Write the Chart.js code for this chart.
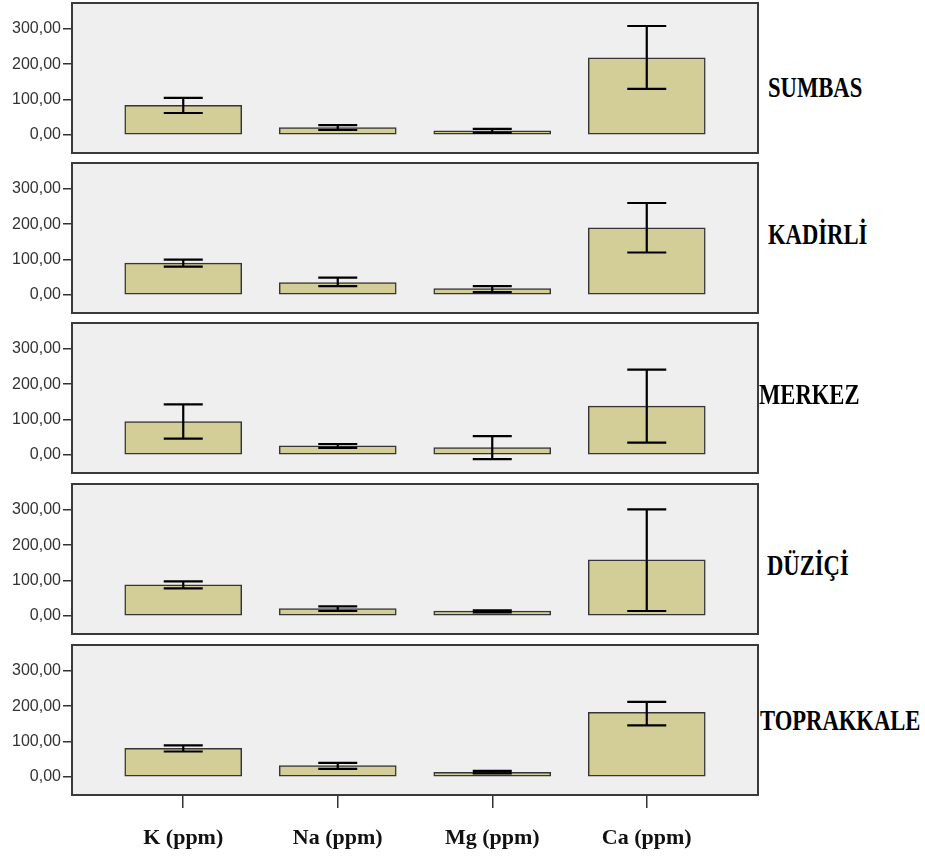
<!DOCTYPE html>
<html>
<head>
<meta charset="utf-8">
<script src="https://cdn.jsdelivr.net/npm/chart.js@4.4.1/dist/chart.umd.min.js"></script>
<style>
  html, body { margin: 0; padding: 0; background: #fff; overflow: hidden; }
  #wrap { position: relative; width: 925px; height: 859px; }
  .panel { position: absolute; left: 0; }
  .site {
    position: absolute; white-space: nowrap;
    font: bold 29px 'Liberation Serif', 'Times New Roman', serif;
    line-height: 29px; color: #000;
    transform: scaleX(0.78); transform-origin: left center;
  }
</style>
</head>
<body>
<div id="wrap"></div>
<script>
const categories = ['K (ppm)', 'Na (ppm)', 'Mg (ppm)', 'Ca (ppm)'];
const sites = ['SUMBAS', 'KADİRLİ', 'MERKEZ', 'DÜZİÇİ', 'TOPRAKKALE'];
const yTicks = [0, 100, 200, 300];

// mean values and error bar ends per site (K, Na, Mg, Ca)
const sumbasMean = [84, 21, 12, 218];
const sumbasLow = [62, 14, 6, 130];
const sumbasHigh = [105, 28, 17, 308];

const kadirliMean = [90, 35, 18, 190];
const kadirliLow = [80, 25, 8, 120];
const kadirliHigh = [100, 49, 25, 260];

const merkezMean = [94, 26, 21, 138];
const merkezLow = [46, 20, -12, 35];
const merkezHigh = [143, 31, 53, 241];

const duziciMean = [88, 21, 14, 159];
const duziciLow = [78, 14, 10, 14];
const duziciHigh = [98, 27, 16, 301];

const toprakkaleMean = [81, 32, 13, 183];
const toprakkaleLow = [72, 23, 10, 146];
const toprakkaleHigh = [89, 40, 17, 212];

const means = [sumbasMean, kadirliMean, merkezMean, duziciMean, toprakkaleMean];
const lows = [sumbasLow, kadirliLow, merkezLow, duziciLow, toprakkaleLow];
const highs = [sumbasHigh, kadirliHigh, merkezHigh, duziciHigh, toprakkaleHigh];

const panelTops = [3, 163, 323, 484, 645];
const labelCenters = [87.5, 235, 395, 566, 721];
const labelLefts = [768, 768, 759, 767, 760];

const boxPlugin = {
  id: 'box',
  beforeDatasetsDraw(chart) {
    const a = chart.chartArea, c = chart.ctx;
    c.save();
    c.fillStyle = '#efefef';
    c.fillRect(a.left, a.top, a.right - a.left, a.bottom - a.top);
    c.restore();
  },
  afterDraw(chart) {
    const a = chart.chartArea, c = chart.ctx;
    c.save();
    c.strokeStyle = '#3a3a3a';
    c.lineWidth = 2;
    c.strokeRect(a.left, a.top, a.right - a.left, a.bottom - a.top);
    c.restore();
  }
};

const errorPlugin = {
  id: 'errbars',
  afterDatasetsDraw(chart, args, opts) {
    const c = chart.ctx, xs = chart.scales.x, ys = chart.scales.y;
    c.save();
    c.strokeStyle = '#000';
    c.lineWidth = 2.2;
    opts.low.forEach((lo, i) => {
      const x = xs.getPixelForValue(i);
      const y1 = ys.getPixelForValue(lo);
      const y2 = ys.getPixelForValue(opts.high[i]);
      c.beginPath();
      c.moveTo(x, y1); c.lineTo(x, y2);
      c.moveTo(x - 19.5, y1); c.lineTo(x + 19.5, y1);
      c.moveTo(x - 19.5, y2); c.lineTo(x + 19.5, y2);
      c.stroke();
    });
    c.restore();
  }
};

const wrap = document.getElementById('wrap');

sites.forEach((site, p) => {
  const last = p === sites.length - 1;
  const div = document.createElement('div');
  div.className = 'panel';
  div.style.top = (panelTops[p] - 2) + 'px';
  const cv = document.createElement('canvas');
  cv.width = 760;
  cv.height = last ? 214 : 154;
  div.appendChild(cv);
  wrap.appendChild(div);

  const lab = document.createElement('div');
  lab.className = 'site';
  lab.textContent = site;
  lab.style.left = labelLefts[p] + 'px';
  lab.style.top = (labelCenters[p] - 14.7) + 'px';
  wrap.appendChild(lab);

  new Chart(cv.getContext('2d'), {
    type: 'bar',
    data: {
      datasets: [{
        data: means[p].map((v, i) => ({ x: i, y: v })),
        backgroundColor: '#d3ce98',
        borderColor: '#353535',
        borderWidth: 1.5,
        borderSkipped: false,
        barThickness: 117
      }]
    },
    options: {
      responsive: false,
      animation: false,
      devicePixelRatio: 1,
      layout: { padding: { top: 2, right: 2, bottom: last ? 0 : 2, left: 0 } },
      plugins: {
        legend: { display: false },
        tooltip: { enabled: false },
        errbars: { low: lows[p], high: highs[p] }
      },
      scales: {
        x: {
          type: 'linear',
          offset: false,
          min: -0.72,
          max: 3.72,
          display: last,
          afterBuildTicks: s => { s.ticks = [0, 1, 2, 3].map(v => ({ value: v })); },
          afterFit: s => {
            if (last) s.height = 62;
            s.paddingLeft = 0; s.paddingRight = 0;
          },
          border: { display: false },
          grid: { offset: false, drawOnChartArea: false, drawTicks: true, tickLength: 13, color: '#333', lineWidth: 1.5 },
          ticks: {
            callback: v => categories[v],
            autoSkip: false,
            maxRotation: 0,
            padding: 17,
            color: '#111',
            font: { family: "'Liberation Serif', 'Times New Roman', serif", size: 22, weight: 'bold' }
          }
        },
        y: {
          min: -51,
          max: 373,
          afterBuildTicks: s => { s.ticks = yTicks.map(v => ({ value: v })); },
          afterFit: s => {
            s.width = 72;
            s.paddingTop = 0; s.paddingBottom = 0;
          },
          border: { display: false },
          grid: { drawOnChartArea: false, drawTicks: true, tickLength: 9, color: '#333', lineWidth: 1.5 },
          ticks: {
            callback: v => v.toFixed(2).replace('.', ','),
            padding: 2,
            color: '#333',
            font: { family: "'Liberation Sans', Arial, sans-serif", size: 16 }
          }
        }
      }
    },
    plugins: [boxPlugin, errorPlugin]
  });
});
</script>
</body>
</html>
